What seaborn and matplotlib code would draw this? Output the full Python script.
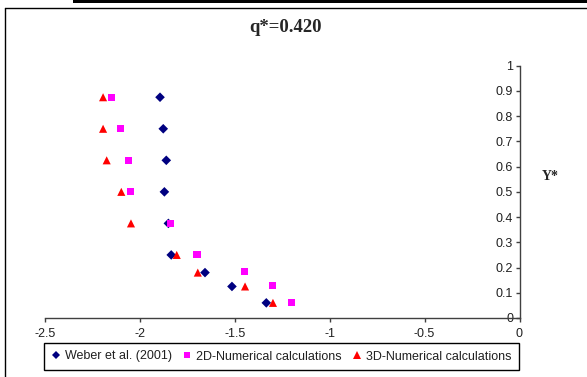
import matplotlib
matplotlib.use("Agg")
import matplotlib.pyplot as plt
import seaborn as sns
import pandas as pd
from matplotlib.lines import Line2D
from matplotlib.patches import Rectangle

# ---- data ----
series_names = ["Weber et al. (2001)", "2D-Numerical calculations", "3D-Numerical calculations"]
weber_x = [-1.894, -1.877, -1.861, -1.871, -1.850, -1.835, -1.657, -1.515, -1.334]
weber_y = [0.875, 0.75, 0.625, 0.5, 0.375, 0.25, 0.18, 0.125, 0.06]
num2d_x = [-2.149, -2.101, -2.061, -2.051, -1.840, -1.699, -1.450, -1.302, -1.200]
num2d_y = [0.875, 0.75, 0.625, 0.5, 0.375, 0.25, 0.183, 0.13, 0.062]
num3d_x = [-2.194, -2.194, -2.175, -2.098, -2.047, -1.806, -1.695, -1.446, -1.299]
num3d_y = [0.875, 0.75, 0.625, 0.5, 0.375, 0.25, 0.18, 0.125, 0.06]
x_ticks = [-2.5, -2, -1.5, -1, -0.5, 0]
x_tick_labels = ["-2.5", "-2", "-1.5", "-1", "-0.5", "0"]
y_ticks = [0, 0.1, 0.2, 0.3, 0.4, 0.5, 0.6, 0.7, 0.8, 0.9, 1]
y_tick_labels = ["0", "0.1", "0.2", "0.3", "0.4", "0.5", "0.6", "0.7", "0.8", "0.9", "1"]
title_text = "q*=0.420"
ylabel_text = "Y*"

df = pd.concat([
    pd.DataFrame({"x": weber_x, "y": weber_y, "series": series_names[0]}),
    pd.DataFrame({"x": num2d_x, "y": num2d_y, "series": series_names[1]}),
    pd.DataFrame({"x": num3d_x, "y": num3d_y, "series": series_names[2]}),
])

sns.set_style("white")
plt.rcParams["font.family"] = ["Liberation Sans", "DejaVu Sans"]

W, H = 587, 377
fig = plt.figure(figsize=(W / 100, H / 100), dpi=100)

x0, x1 = 45, 519.5
yt, yb = 65.7, 318
ax = fig.add_axes([x0 / W, 1 - yb / H, (x1 - x0) / W, (yb - yt) / H])

palette = {series_names[0]: "#000080", series_names[1]: "#FF00FF", series_names[2]: "#FF0000"}
markers = {series_names[0]: "D", series_names[1]: "s", series_names[2]: "^"}
sizes = {series_names[0]: 24, series_names[1]: 26, series_names[2]: 34}

for name in series_names:
    sub = df[df["series"] == name]
    sns.scatterplot(data=sub, x="x", y="y", color=palette[name], marker=markers[name],
                    s=sizes[name], edgecolor="none", linewidth=0, ax=ax, legend=False,
                    clip_on=False, zorder=3)

ax.set_xlim(-2.5, 0)
ax.set_ylim(0, 1)
ax.set_xticks(x_ticks)
ax.set_xticklabels(x_tick_labels)
ax.set_yticks(y_ticks)
ax.set_yticklabels(y_tick_labels)
ax.set_xlabel("")
ax.set_ylabel("")

ax.spines["top"].set_visible(False)
ax.spines["right"].set_visible(False)
ax.spines["left"].set_position(("data", 0))
for sp in ("left", "bottom"):
    ax.spines[sp].set_color("#404040")
    ax.spines[sp].set_linewidth(1.0)
ax.tick_params(axis="both", direction="out", length=3, width=1, color="#404040",
               labelsize=9, labelcolor="#202020")
ax.tick_params(axis="x", pad=4, bottom=True)
ax.tick_params(axis="y", pad=1.5, left=True)
ax.patch.set_alpha(0)

fig.text(286 / W, 1 - 28 / H, title_text, ha="center", va="center",
         fontsize=13.5, fontweight="bold", family=["Liberation Serif", "DejaVu Serif"])
fig.text(550 / W, 1 - 177 / H, ylabel_text, ha="center", va="center",
         fontsize=10, fontweight="bold", family=["Liberation Serif", "DejaVu Serif"])

handles = [Line2D([], [], linestyle="none", marker=markers[n], color=palette[n],
                  markersize=4.2 if n != series_names[2] else 5.2, markeredgewidth=0)
           for n in series_names]
leg = fig.legend(handles, series_names, loc="center", ncol=3,
                 bbox_to_anchor=(281.5 / W, 1 - 356.5 / H), fontsize=9,
                 frameon=True, fancybox=False, framealpha=1, edgecolor="black",
                 handlelength=0.7, handletextpad=0.4, columnspacing=0.85,
                 borderpad=0.6, borderaxespad=0)
leg.get_frame().set_linewidth(1.0)
for t in leg.get_texts():
    t.set_color("#202020")

# outer chart frame (left and top edges) and black bar at very top
fig.add_artist(Line2D([5 / W, 5 / W], [0, 1 - 8 / H], transform=fig.transFigure,
                      color="black", lw=1))
fig.add_artist(Line2D([5 / W, 1], [1 - 8 / H, 1 - 8 / H], transform=fig.transFigure,
                      color="black", lw=1))
fig.add_artist(Rectangle((73 / W, 1 - 3 / H), 1 - 73 / W, 3 / H, transform=fig.transFigure,
                         color="black", lw=0))

fig.savefig("out.png", dpi=100)
